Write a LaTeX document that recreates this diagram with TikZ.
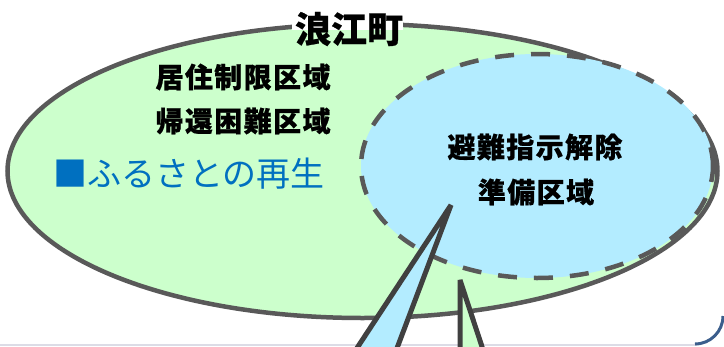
\documentclass[tikz,border=0pt]{standalone}
\usepackage{fontspec}
\newfontfamily\jp[BoldFeatures={FakeBold=0.6}]{Noto Sans CJK JP}
\usetikzlibrary{shapes.geometric}
\definecolor{rimgray}{HTML}{595959}
\definecolor{tailgray}{HTML}{404040}
\definecolor{palegreen}{HTML}{CCFFCC}
\definecolor{paleblue}{HTML}{B3ECFF}
\definecolor{townblue}{HTML}{0070C0}
\definecolor{frameblue}{HTML}{3B5E8C}
\definecolor{framegray}{HTML}{DCDCE6}
\begin{document}
\begin{tikzpicture}[x=1pt, y=-1pt,
  area/.style={ellipse, draw=rimgray, line width=4.5pt, inner sep=0pt},
  tail/.style={draw=tailgray, line width=5pt, line join=bevel},
  zone/.style={font=\jp\bfseries\addfontfeature{LetterSpace=5}\fontsize{28}{34}\selectfont}]
\useasboundingbox (0,0) rectangle (724,346);
\clip (0,0) rectangle (724,346);
% frame of the slide
\draw[framegray, line width=1.5pt] (0,345.2) -- (697,345.2);
\draw[frameblue, line width=3pt] (723,316) arc[start angle=0, end angle=90, radius=28];
% the town and the zone inside it
\node[area, fill=palegreen, minimum width=710pt, minimum height=294pt] (town) at (362.5,171) {};
\node[area, fill=paleblue, dash pattern=on 19pt off 17pt, minimum width=352pt, minimum height=224pt] (zone) at (537,166) {};
% callout tails
\path (451,205) coordinate (tipA);
\path (460,280) coordinate (tipB);
\filldraw[tail, fill=paleblue] (336,380) -- (tipA) -- (385,380);
\filldraw[tail, fill=palegreen] (460,380) -- (tipB) -- (493,380);
% labels
\fill[white] (292,0) rectangle (403,30);
\node[font=\jp\bfseries\fontsize{36}{40}\selectfont] (name) at (349,29) {浪江町};
\node[zone] (limit) at (243,77) {居住制限区域};
\node[zone] (hard) at (243,121) {帰還困難区域};
\node[font=\jp\fontsize{34}{40}\selectfont, text=townblue] (home) at (189,174) {■ふるさとの再生};
\node[zone] (lift) at (535,147) {避難指示解除};
\node[zone] (ready) at (536,192) {準備区域};
\end{tikzpicture}
\end{document}
